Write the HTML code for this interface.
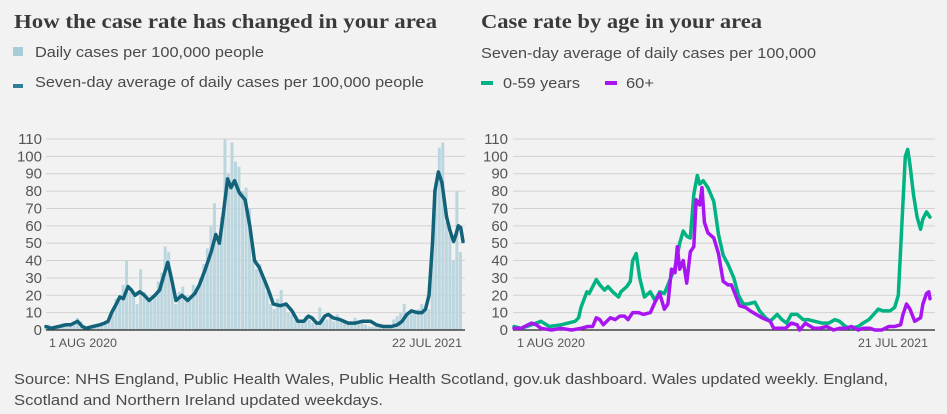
<!DOCTYPE html>
<html><head><meta charset="utf-8">
<style>
html,body{margin:0;padding:0;background:#f2f2f2;}
svg{display:block;font-family:"Liberation Sans",sans-serif;}
.t{font-family:"Liberation Serif",serif;font-weight:bold;font-size:20px;fill:#3a3a3a;}
.l{font-size:15px;fill:#4a4a4a;}
.tick{font-size:15px;fill:#555;}
.xl{font-size:12px;fill:#555;}
</style></head>
<body>
<svg id="chart" width="947" height="414" viewBox="0 0 947 414" xmlns="http://www.w3.org/2000/svg">
<rect width="947" height="414" fill="#f2f2f2"/>
<text class="t" x="14" y="28" textLength="423" lengthAdjust="spacingAndGlyphs">How the case rate has changed in your area</text>
<rect x="13" y="47" width="10" height="9" fill="#a8cbd8"/>
<text class="l" x="35" y="57" textLength="229" lengthAdjust="spacingAndGlyphs">Daily cases per 100,000 people</text>
<rect x="13" y="84" width="10" height="4" fill="#2f7f9a"/>
<text class="l" x="35" y="87" textLength="389" lengthAdjust="spacingAndGlyphs">Seven-day average of daily cases per 100,000 people</text>

<text class="t" x="481" y="28" textLength="281" lengthAdjust="spacingAndGlyphs">Case rate by age in your area</text>
<text class="l" x="481" y="58" textLength="335" lengthAdjust="spacingAndGlyphs">Seven-day average of daily cases per 100,000</text>
<rect x="481" y="81" width="12" height="4" fill="#00b383"/>
<text class="l" x="503" y="88" textLength="77" lengthAdjust="spacingAndGlyphs">0-59 years</text>
<rect x="605" y="81" width="12" height="4" fill="#a815f0"/>
<text class="l" x="626" y="88" textLength="28" lengthAdjust="spacingAndGlyphs">60+</text>

<g id="left"></g>
<g id="right"></g>

<text class="l" x="14" y="384" textLength="874" lengthAdjust="spacingAndGlyphs">Source: NHS England, Public Health Wales, Public Health Scotland, gov.uk dashboard. Wales updated weekly. England,</text>
<text class="l" x="14" y="405" textLength="369" lengthAdjust="spacingAndGlyphs">Scotland and Northern Ireland updated weekdays.</text>
</svg>
<script>
var yTicks=[0,10,20,30,40,50,60,70,80,90,100,110];
var leftXLabels=["1 AUG 2020","22 JUL 2021"];
var rightXLabels=["1 AUG 2020","21 JUL 2021"];
var barDays=[0,3,6,9,12,15,18,21,24,27,30,33,36,39,42,45,48,51,54,57,60,63,66,69,72,75,78,81,84,87,90,93,96,99,102,105,108,111,114,117,120,123,126,129,132,135,138,141,144,147,150,153,156,159,162,165,168,171,174,177,180,183,186,189,192,195,198,201,204,207,210,213,216,219,222,225,228,231,234,237,240,243,246,249,252,255,258,261,264,267,270,273,276,279,282,285,288,291,294,297,300,303,306,309,312,315,318,321,324,327,330,333,336,339,342,345,348,351,354];
var barValues=[2,3,1,2,3,4,3,4,5,7,5,3,1,1,2,2,3,4,6,12,18,20,26,40,22,20,15,35,22,18,17,20,28,33,48,45,25,15,22,25,20,17,26,22,30,38,47,60,73,50,65,110,90,108,97,94,80,82,70,40,35,38,30,22,15,12,18,23,14,10,9,6,4,6,8,6,4,5,13,8,6,7,5,9,6,4,5,5,7,4,5,3,2,2,2,3,2,2,3,6,8,10,15,10,12,10,12,15,13,12,45,85,105,108,62,55,40,80,45];
var avgDays=[0,4,11,17,21,24,27,31,34,40,46,50,53,56,60,63,66,70,73,76,80,84,88,93,97,100,104,107,111,116,121,127,131,136,141,145,148,151,155,158,161,165,170,174,178,182,187,191,194,200,205,210,215,220,224,227,231,234,238,241,245,251,258,264,270,277,282,288,295,300,304,308,312,317,321,324,327,330,332,335,338,342,345,348,350,352,354,356];
var avgValues=[2,1,2,3,3,4,5,2,1,2,3,4,5,10,15,19,18,25,23,20,22,20,17,20,23,30,39,30,17,20,17,21,26,35,45,55,50,65,87,82,86,79,75,60,40,36,28,21,15,14,15,11,5,5,8,7,4,4,8,9,7,6,4,4,5,5,3,2,2,3,5,9,11,10,10,12,20,50,80,91,85,65,57,51,55,60,59,51];
var youngDays=[0,6,15,23,30,40,46,52,55,57,62,64,70,73,77,80,84,89,91,96,99,101,104,107,111,116,120,124,128,131,137,141,144,147,150,153,156,158,161,165,170,174,178,182,187,191,195,199,205,209,214,218,224,228,232,236,241,246,250,256,262,268,273,277,282,287,293,297,302,306,310,314,320,324,327,330,333,335,337,340,343,346,348,351,354];
var youngValues=[2,1,3,5,2,3,4,5,7,13,22,21,29,26,23,25,22,19,22,25,28,40,44,30,19,22,17,22,21,26,36,50,57,54,53,78,89,84,86,82,74,55,43,38,30,20,15,15,16,11,7,5,9,6,4,9,9,6,6,5,4,4,6,5,2,1,2,4,6,9,12,11,11,13,20,60,100,104,95,78,65,58,64,68,65];
var oldDays=[0,6,15,19,23,32,40,49,57,63,67,70,73,76,82,86,90,94,97,101,106,110,116,120,124,128,131,134,137,139,141,144,147,150,153,155,158,160,162,165,170,174,178,182,185,188,192,197,201,206,211,218,221,226,231,236,241,243,248,250,255,260,266,272,277,283,287,293,297,303,307,313,319,324,329,331,334,337,341,346,348,351,353,354];
var oldValues=[1,1,4,3,1,0,1,0,1,2,2,7,6,3,7,6,8,8,6,10,10,9,10,16,21,12,15,35,33,48,35,40,27,45,48,75,72,82,62,56,53,44,28,26,26,21,14,13,11,9,7,5,1,1,1,4,3,0,4,3,1,1,2,0,1,1,2,0,1,1,0,0,2,2,3,9,15,12,5,7,15,21,22,18];

var NS="http://www.w3.org/2000/svg";
function mk(tag,attrs,parent){var e=document.createElementNS(NS,tag);for(var k in attrs)e.setAttribute(k,attrs[k]);parent.appendChild(e);return e;}
var Y0=330,Y110=139,MAXD=356;
function yScale(v){return Y0-(v/110)*(Y0-Y110);}

function axes(g,x0,x1,lblX,labels,labelPos,name){
  yTicks.forEach(function(t){
    var ln=mk('line',{x1:x0,x2:x1,y1:yScale(t),y2:yScale(t),stroke:'#d2d2d2','stroke-width':1},g);
    
    
    var tx=mk('text',{x:lblX,y:yScale(t)+5,'text-anchor':'end','class':'tick'},g);
    tx.textContent=t;
    
    
  });
  labels.forEach(function(s,i){
    var tx=mk('text',{x:labelPos[i][0],y:347,'class':'xl',textLength:labelPos[i][1],lengthAdjust:'spacingAndGlyphs'},g);
    tx.textContent=s;
    
    
  });
}
function line(g,days,vals,xs,color,w,name){
  var d=days.map(function(dd,i){return (i?'L':'M')+xs(dd).toFixed(1)+','+yScale(vals[i]).toFixed(1);}).join('');
  var p=mk('path',{d:d,fill:'none',stroke:color,'stroke-width':w,'stroke-linejoin':'round','stroke-linecap':'round'},g);
  
  
}

// Left chart
var gL=document.getElementById('left');
var LX0=46,LX1=463;
function xL(d){return LX0+(d/MAXD)*(LX1-LX0);}
axes(gL,46,465,42,leftXLabels,[[49,68],[392,70]],'left');
var bw=(LX1-LX0)/MAXD*3;
barDays.forEach(function(d,i){
  var r=mk('rect',{x:xL(d)-bw/2,y:yScale(barValues[i]),width:bw*0.85,height:Y0-yScale(barValues[i]),fill:'#bcd6df'},gL);
  
  
});
var axL=mk('line',{x1:46,x2:465,y1:Y0,y2:Y0,stroke:'#222','stroke-width':1.2},gL);


line(gL,avgDays,avgValues,xL,'#12627a',3.5,'seven-day-average-line');

// Right chart
var gR=document.getElementById('right');
var RX0=514,RX1=930;
function xR(d){return RX0+(d/354)*(RX1-RX0);}
axes(gR,513,935,508,rightXLabels,[[517,68],[858,70]],'right');
var axR=mk('line',{x1:513,x2:935,y1:Y0,y2:Y0,stroke:'#222','stroke-width':1.2},gR);


line(gR,youngDays,youngValues,xR,'#00b383',3.5,'under-60-line');
line(gR,oldDays,oldValues,xR,'#a815f0',3.5,'over-60-line');
</script>
</body></html>
